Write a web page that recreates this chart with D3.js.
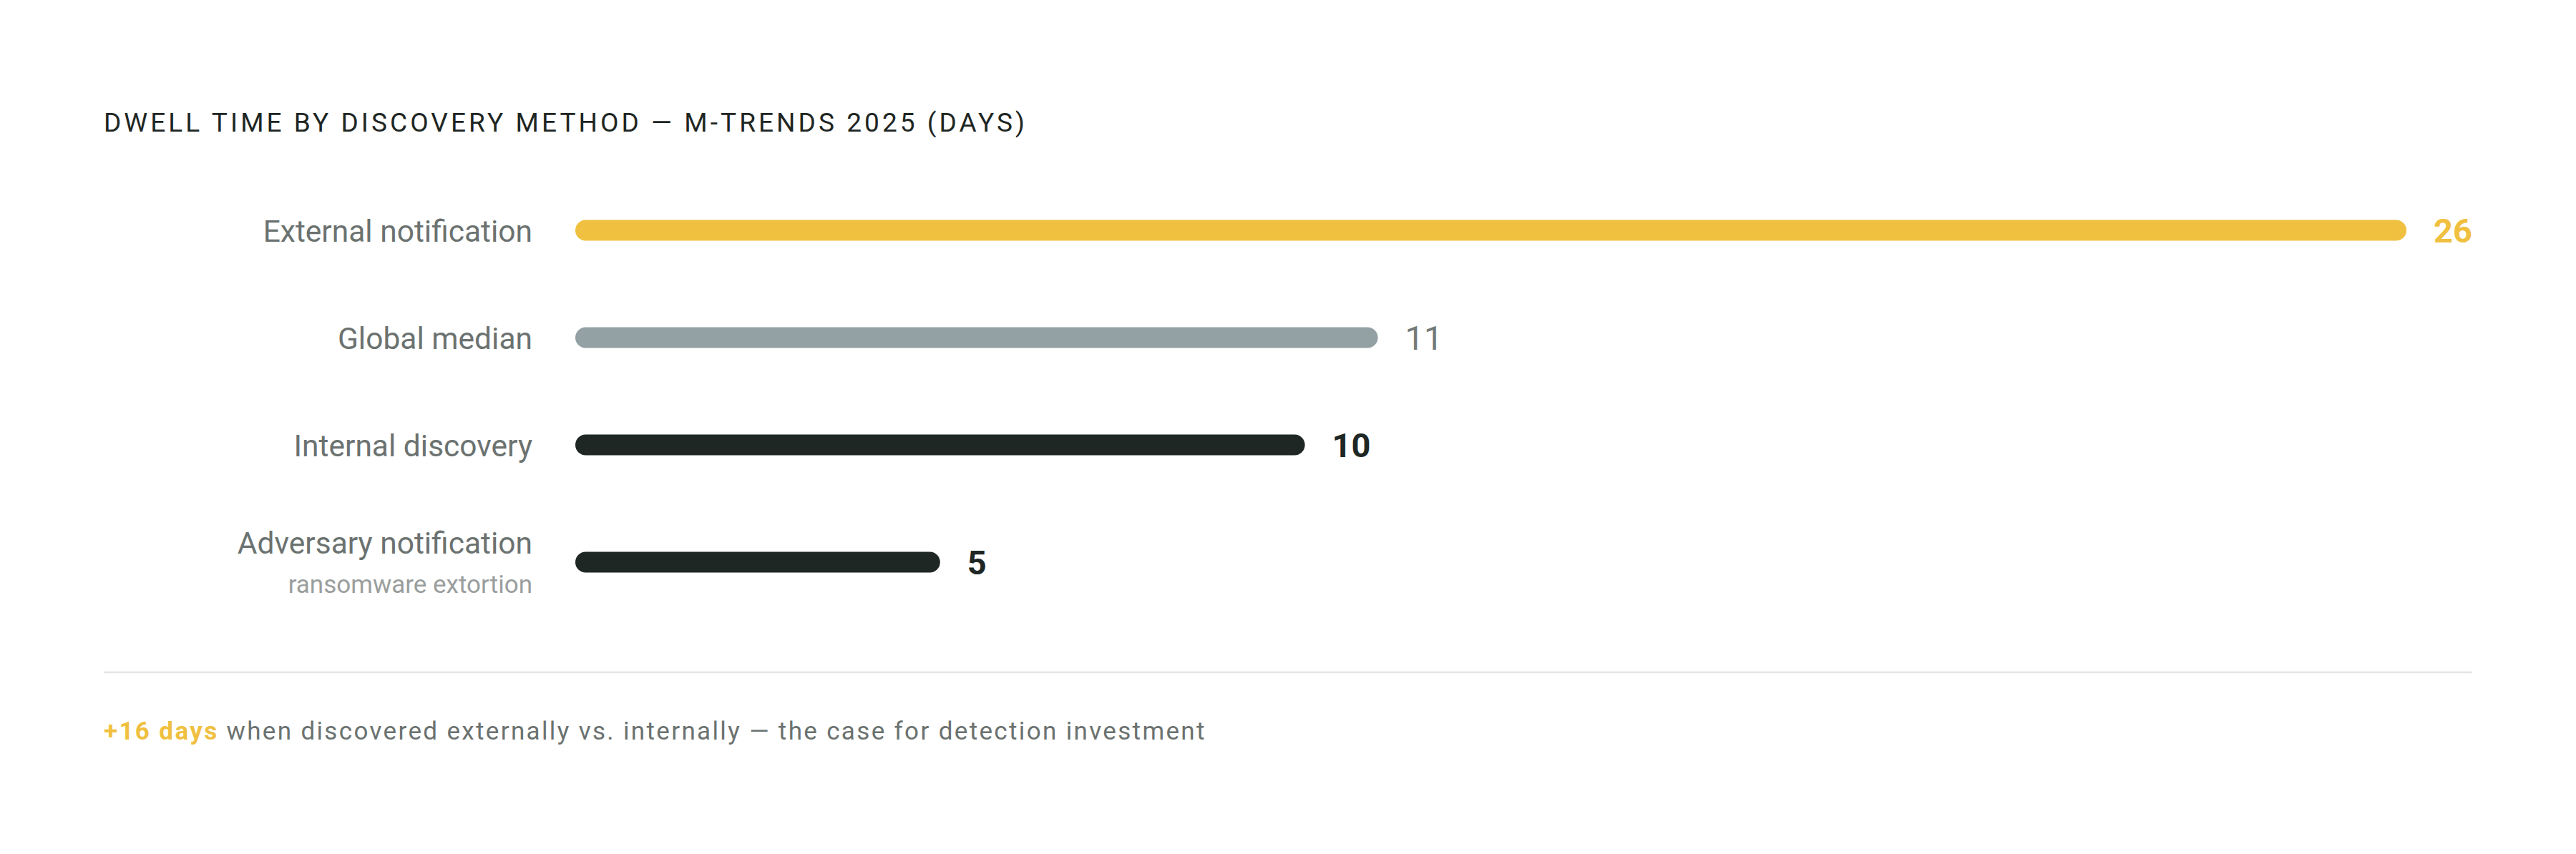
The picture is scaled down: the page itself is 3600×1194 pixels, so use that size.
<!DOCTYPE html>
<html>
<head>
<meta charset="utf-8">
<script src="https://cdn.jsdelivr.net/npm/d3@7"></script>
<style>
  html, body { margin: 0; padding: 0; background: #fff; }
  svg { display: block; font-family: Roboto, "Noto Sans", sans-serif; }
</style>
</head>
<body>
<div id="chart"></div>
<script>
// values
var categories = ["External notification", "Global median", "Internal discovery", "Adversary notification"];
var subLabels = ["", "", "", "ransomware extortion"];
var days = [26, 11, 10, 5];
var barKinds = ["highlight", "reference", "base", "base"];

var titleText = "DWELL TIME BY DISCOVERY METHOD \u2014 M-TRENDS 2025 (DAYS)";
var noteLead = "+16 days";
var noteRest = " when discovered externally vs. internally \u2014 the case for detection investment";

var colors = { highlight: "#f0c040", reference: "#93a0a4", base: "#1e2724" };
var valueColors = { highlight: "#f0c040", reference: "#737977", base: "#1e2724" };
var valueWeights = { highlight: 700, reference: 400, base: 700 };

var W = 3600, H = 1194;
var left = 145, right = 3455;
var trackX = 804, labelX = 744;
var barH = 29, gap = 38;

var svg = d3.select("#chart").append("svg")
  .attr("width", W)
  .attr("height", H);

// title
svg.append("text")
  .attr("x", left)
  .attr("y", 184)
  .attr("fill", "#1e2623")
  .style("font-size", "37px")
  .style("letter-spacing", "6px")
  .attr("textLength", 1293)
  .attr("lengthAdjust", "spacing")
  .text(titleText);

// row centres: fixed step, a bit more for a row with a second line
var rowPos = [];
var acc = 0;
categories.forEach(function (c, i) {
  if (i > 0) acc += 150;
  if (subLabels[i]) acc += 14;
  rowPos.push(acc);
});
var y = d3.scaleLinear().domain([0, 150]).range([322, 472]);

var x = d3.scaleLinear()
  .domain([0, d3.max(days)])
  .range([0, right - trackX]);

var rows = svg.selectAll(".row")
  .data(categories)
  .enter().append("g")
  .attr("class", "row")
  .attr("transform", function (d, i) { return "translate(0," + y(rowPos[i]) + ")"; });

// category label
rows.append("text")
  .attr("x", labelX)
  .attr("y", function (d, i) { return subLabels[i] ? -12 : 16; })
  .attr("text-anchor", "end")
  .attr("fill", "#6b7270")
  .style("font-size", "42.5px")
  .text(function (d) { return d; });

rows.filter(function (d, i) { return subLabels[i]; })
  .append("text")
  .attr("x", labelX)
  .attr("y", 43)
  .attr("text-anchor", "end")
  .attr("fill", "#9a9e9d")
  .style("font-size", "35px")
  .text(function (d) { return subLabels[categories.indexOf(d)]; });

// value labels first, so the bar can leave room for them
var values = rows.append("text")
  .attr("y", 17)
  .attr("fill", function (d, i) { return valueColors[barKinds[i]]; })
  .style("font-weight", function (d, i) { return valueWeights[barKinds[i]]; })
  .style("font-size", "47px")
  .text(function (d, i) { return days[i]; });

var barW = [];
values.each(function (d, i) {
  var lw = this.getComputedTextLength();
  var w = Math.min(x(days[i]), right - trackX - gap - lw);
  barW.push(w);
  d3.select(this).attr("x", trackX + w + gap);
});

rows.insert("rect", "text")
  .attr("x", trackX)
  .attr("y", -barH / 2)
  .attr("height", barH)
  .attr("rx", barH / 2)
  .attr("width", function (d, i) { return barW[i]; })
  .attr("fill", function (d, i) { return colors[barKinds[i]]; });

// divider
svg.append("line")
  .attr("x1", left).attr("x2", right)
  .attr("y1", 940).attr("y2", 940)
  .attr("stroke", "#e4e6e6")
  .attr("stroke-width", 2.5);

// footnote
var note = svg.append("text")
  .attr("x", left)
  .attr("y", 1034)
  .style("font-size", "35px")
  .style("letter-spacing", "1.5px")
  .attr("textLength", 1540)
  .attr("lengthAdjust", "spacing");
note.append("tspan")
  .attr("fill", "#f0c040")
  .style("font-weight", 700)
  .text(noteLead);
note.append("tspan")
  .attr("fill", "#6b7270")
  .text(noteRest);
</script>
</body>
</html>
